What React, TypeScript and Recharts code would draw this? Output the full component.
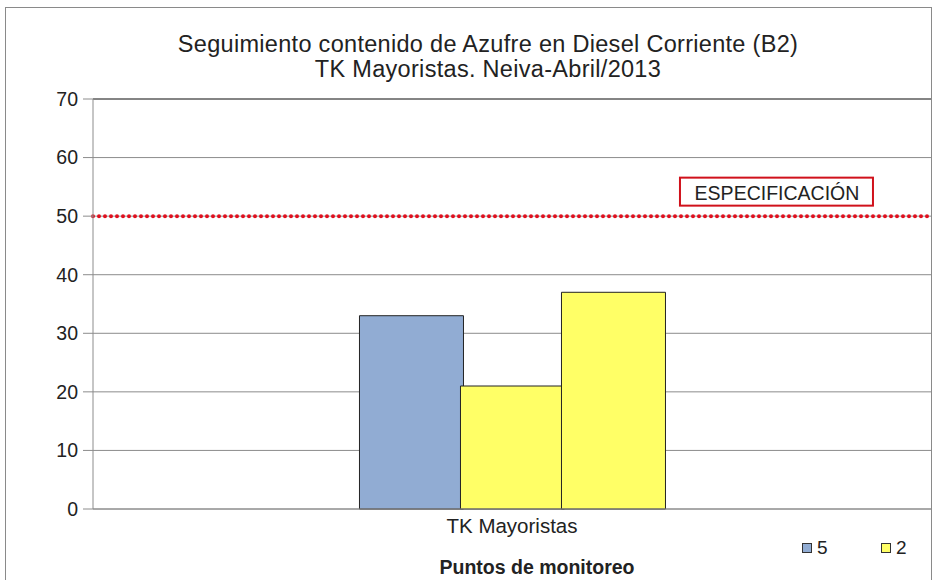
import {
  BarChart,
  Bar,
  XAxis,
  YAxis,
  CartesianGrid,
  ReferenceLine,
  Legend,
} from "recharts";

const categorias = ["TK Mayoristas"];
const serie5 = [33];
const serie2a = [21];
const serie2b = [37];
const especificacion = 50;
const yTicks = [0, 10, 20, 30, 40, 50, 60, 70];
const ordenLeyenda = ["5", "2"];

const data = categorias.map((c, i) => ({
  categoria: c,
  s5: serie5[i],
  s2a: serie2a[i],
  s2b: serie2b[i],
}));

const FONT = '"Liberation Sans", Arial, sans-serif';

function SpecLabel(props: any) {
  const { viewBox } = props;
  const cx = viewBox.x + viewBox.width * 0.815;
  const cy = viewBox.y - 24.5;
  return (
    <g>
      <rect
        x={cx - 96}
        y={cy - 14}
        width={193}
        height={28}
        fill="#fff"
        stroke="#d0111b"
        strokeWidth={2}
      />
      <text
        x={cx + 1}
        y={cy + 1}
        textAnchor="middle"
        dominantBaseline="central"
        fontSize={19.5}
        fill="#222"
        fontFamily={FONT}
      >
        ESPECIFICACIÓN
      </text>
    </g>
  );
}

function LegendBox(props: any) {
  const items = (props.payload || [])
    .filter((p: any) => p.type !== "none")
    .sort((a: any, b: any) => ordenLeyenda.indexOf(a.value) - ordenLeyenda.indexOf(b.value));
  return (
    <div style={{ display: "flex", fontFamily: FONT, fontSize: 19, color: "#222", lineHeight: "20px" }}>
      {items.map((p: any) => (
        <div key={p.value} style={{ display: "flex", alignItems: "center", width: 79 }}>
          <span
            style={{
              display: "inline-block",
              width: 8,
              height: 8,
              background: p.color,
              border: "1px solid #333",
              marginRight: 5,
            }}
          />
          <span>{p.value}</span>
        </div>
      ))}
    </div>
  );
}

export default function App() {
  return (
    <div
      style={{
        position: "absolute",
        left: 0,
        top: 0,
        width: 948,
        height: 580,
        overflow: "hidden",
        background: "#fff",
        fontFamily: FONT,
      }}
    >
      <div
        style={{
          position: "absolute",
          left: 5,
          top: 7,
          width: 925,
          height: 600,
          border: "1px solid #8a8a8a",
        }}
      />
      <div
        style={{
          position: "absolute",
          left: 0,
          width: 976,
          top: 32,
          textAlign: "center",
          fontSize: 23.5,
          letterSpacing: 0.3,
          lineHeight: "25px",
          color: "#222",
        }}
      >
        Seguimiento contenido de Azufre en Diesel Corriente (B2)
        <br />
        TK Mayoristas. Neiva-Abril/2013
      </div>
      <BarChart
        width={948}
        height={580}
        data={data}
        margin={{ top: 99, right: 17, bottom: 0, left: 33 }}
        barCategoryGap="31.8%"
        barGap={-3}
        style={{ position: "absolute", left: 0, top: 0 }}
      >
        <CartesianGrid vertical={false} stroke="#8c8c8c" />
        <XAxis
          dataKey="categoria"
          height={71}
          tickLine={false}
          axisLine={{ stroke: "#8c8c8c" }}
          tick={{ fontSize: 20.5, fill: "#222", fontFamily: FONT }}
          tickMargin={3}
          label={{
            value: "Puntos de monitoreo",
            position: "insideBottom",
            offset: 6,
            dx: 25,
            style: { fontSize: 19.5, fontWeight: "bold", fill: "#222", fontFamily: FONT },
          }}
        />
        <YAxis
          width={60}
          domain={[0, 70]}
          ticks={yTicks}
          interval={0}
          tickSize={10}
          tickMargin={5}
          axisLine={{ stroke: "#8c8c8c" }}
          tickLine={{ stroke: "#8c8c8c" }}
          tick={{ fontSize: 19.5, fill: "#222", fontFamily: FONT }}
        />
        <ReferenceLine y={70} stroke="#444" />
        <Legend
          verticalAlign="bottom"
          content={<LegendBox />}
          wrapperStyle={{ position: "absolute", left: 802, top: 538, width: 160, height: 0, overflow: "visible" }}
        />
        <Bar
          dataKey="s5"
          name="5"
          fill="#91acd3"
          stroke="#222"
          strokeWidth={1}
          isAnimationActive={false}
        />
        <Bar
          dataKey="s2a"
          name="2"
          fill="#ffff66"
          stroke="#222"
          strokeWidth={1}
          isAnimationActive={false}
        />
        <Bar
          dataKey="s2b"
          name="2b"
          legendType="none"
          fill="#ffff66"
          stroke="#222"
          strokeWidth={1}
          isAnimationActive={false}
        />
        <ReferenceLine
          y={especificacion}
          stroke="#e0101e"
          strokeWidth={4}
          strokeDasharray="0 6"
          strokeLinecap="round"
          label={<SpecLabel />}
        />
      </BarChart>
    </div>
  );
}
